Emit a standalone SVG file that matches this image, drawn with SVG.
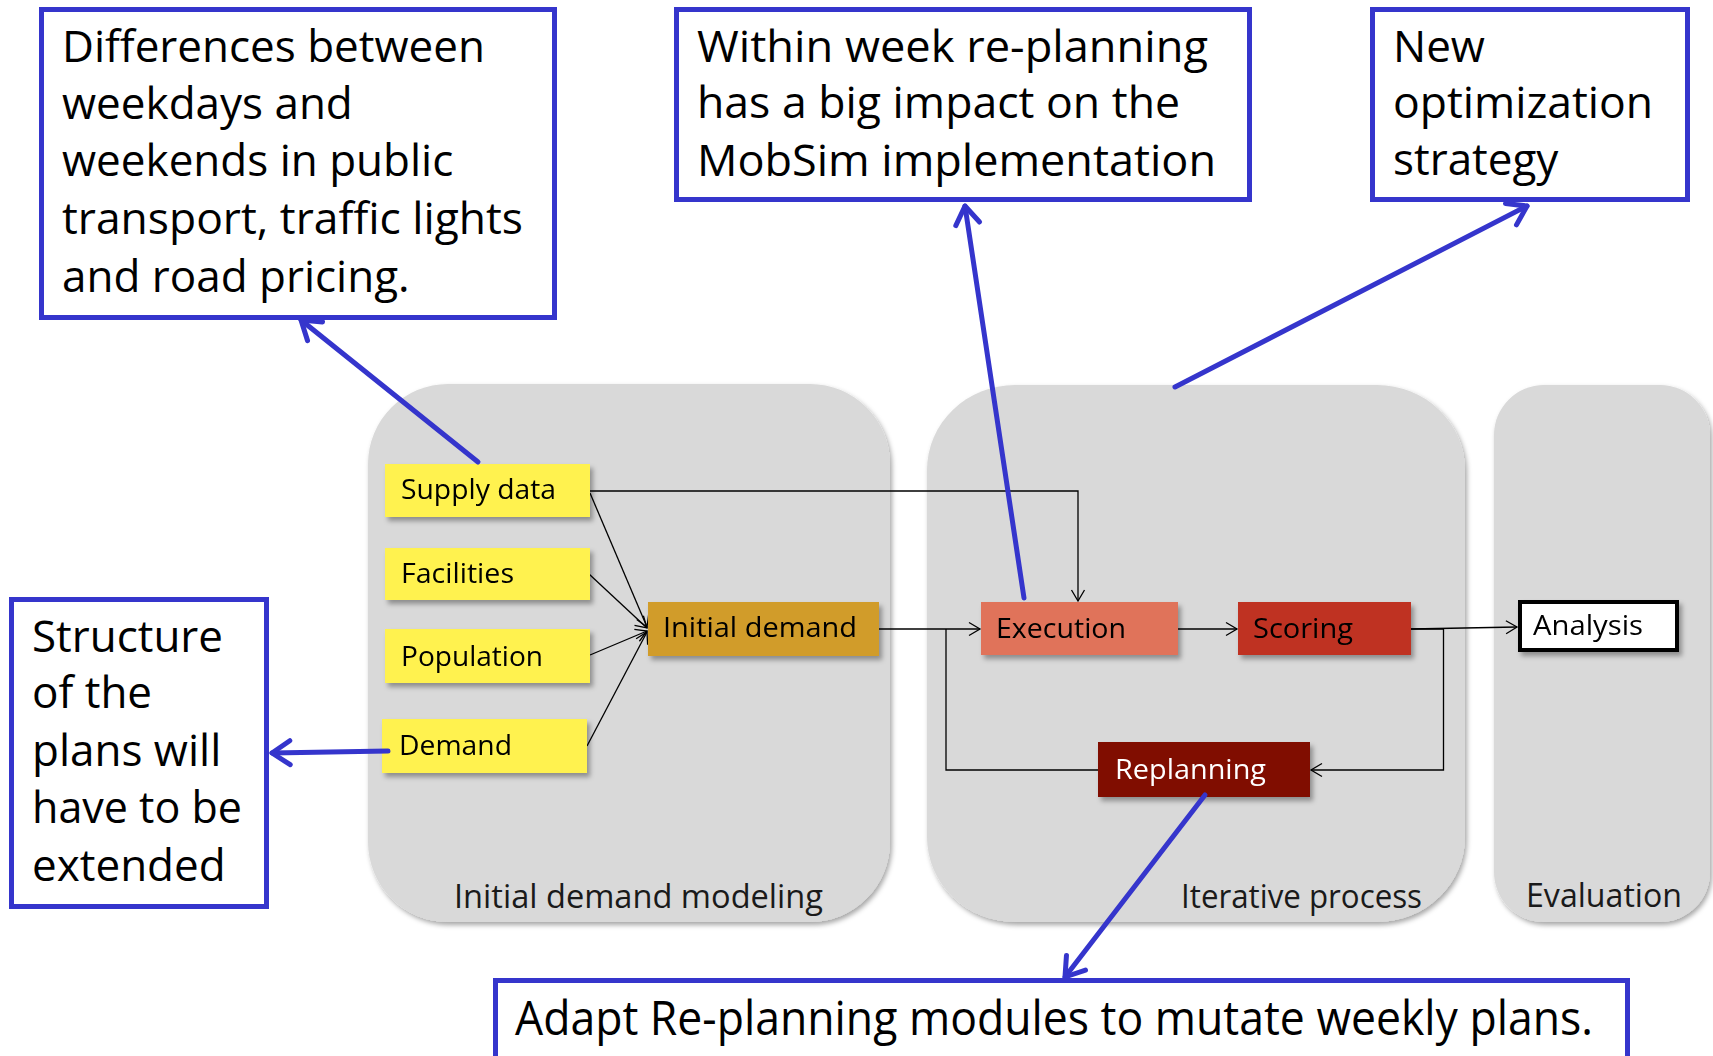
<svg xmlns="http://www.w3.org/2000/svg" width="1713" height="1056" viewBox="0 0 1713 1056">
<style>
text{font-family:"Open Sans","Liberation Sans",sans-serif;}
.call{fill:#fff;stroke:#3535cc;stroke-width:5;}
.ct{font-size:44px;fill:#000;}
.nt{font-size:27px;fill:#000;}
.wt{font-size:27px;fill:#fff;}
.pl{font-size:32px;fill:#1a1a1a;}
.panel{fill:#d9d9d9;filter:url(#psh);}
.node{filter:url(#nsh);}
.conn{fill:none;stroke:#000;stroke-width:1.3;}
.blue{fill:none;stroke:#3535cc;stroke-width:5;stroke-linecap:round;}
</style>
<defs>
<filter id="psh" x="-5%" y="-5%" width="110%" height="110%"><feDropShadow dx="2" dy="3" stdDeviation="2.5" flood-color="#000" flood-opacity="0.35"/></filter>
<filter id="nsh" x="-10%" y="-20%" width="120%" height="150%"><feDropShadow dx="3" dy="4" stdDeviation="2.5" flood-color="#000" flood-opacity="0.35"/></filter>
<marker id="ah" markerUnits="userSpaceOnUse" markerWidth="30" markerHeight="30" refX="0" refY="0" viewBox="-15 -15 30 30" orient="auto"><path d="M-11,-6.5 L0,0 L-11,6.5" fill="none" stroke="#000" stroke-width="1.3"/></marker>
<marker id="bh" markerUnits="userSpaceOnUse" markerWidth="50" markerHeight="50" refX="0" refY="0" viewBox="-25 -25 50 50" orient="auto"><path d="M-18,-12 L0,0 L-18,12" fill="none" stroke="#3535cc" stroke-width="5" stroke-linecap="round" stroke-linejoin="round"/></marker>
</defs>

<g id="panels">
<rect class="panel" x="368" y="384" width="522" height="538" rx="80" ry="80"/>
<rect class="panel" x="927" y="385" width="538" height="537" rx="88" ry="85"/>
<rect class="panel" x="1494" y="385" width="216" height="537" rx="50" ry="50"/>
<text class="pl" x="454" y="908" textLength="369" lengthAdjust="spacingAndGlyphs">Initial demand modeling</text>
<text class="pl" x="1181" y="908" textLength="241" lengthAdjust="spacingAndGlyphs">Iterative process</text>
<text class="pl" x="1526" y="907" textLength="156" lengthAdjust="spacingAndGlyphs">Evaluation</text>
</g>

<g id="connectors">
<line class="conn" x1="590" y1="493" x2="647" y2="627" marker-end="url(#ah)"/>
<line class="conn" x1="589" y1="574" x2="647" y2="628" marker-end="url(#ah)"/>
<line class="conn" x1="590" y1="655" x2="647" y2="631" marker-end="url(#ah)"/>
<line class="conn" x1="587" y1="746" x2="647" y2="632" marker-end="url(#ah)"/>
<polyline class="conn" points="590,491 1078,491 1078,601" marker-end="url(#ah)"/>
<line class="conn" x1="879" y1="629" x2="980" y2="629" marker-end="url(#ah)"/>
<polyline class="conn" points="1098,770 946,770 946,629"/>
<line class="conn" x1="1178" y1="629" x2="1237" y2="629" marker-end="url(#ah)"/>
<line class="conn" x1="1411" y1="629" x2="1517" y2="627" marker-end="url(#ah)"/>
<polyline class="conn" points="1411,629 1443.5,629 1443.5,770 1311,770" marker-end="url(#ah)"/>
</g>

<g id="supply-data" class="node"><rect x="385" y="464" width="205" height="53" fill="#fff24f"/><text class="nt" x="401" y="499" textLength="155" lengthAdjust="spacingAndGlyphs">Supply data</text></g>
<g id="facilities" class="node"><rect x="385" y="548" width="205" height="52" fill="#fff24f"/><text class="nt" x="401" y="583" textLength="113" lengthAdjust="spacingAndGlyphs">Facilities</text></g>
<g id="population" class="node"><rect x="385" y="629" width="205" height="54" fill="#fff24f"/><text class="nt" x="401" y="666" textLength="142" lengthAdjust="spacingAndGlyphs">Population</text></g>
<g id="demand" class="node"><rect x="382" y="719" width="205" height="54" fill="#fff24f"/><text class="nt" x="399" y="755" textLength="113" lengthAdjust="spacingAndGlyphs">Demand</text></g>
<g id="initial-demand" class="node"><rect x="648" y="602" width="231" height="54" fill="#d19c2a"/><text class="nt" x="663" y="637" textLength="194" lengthAdjust="spacingAndGlyphs">Initial demand</text></g>
<g id="execution" class="node"><rect x="981" y="602" width="197" height="53" fill="#e0735a"/><text class="nt" x="996" y="638" textLength="130" lengthAdjust="spacingAndGlyphs">Execution</text></g>
<g id="scoring" class="node"><rect x="1238" y="602" width="173" height="53" fill="#bf3124"/><text class="nt" x="1253" y="638" textLength="100" lengthAdjust="spacingAndGlyphs">Scoring</text></g>
<g id="analysis" class="node"><rect x="1520" y="602" width="157" height="48" fill="#fff" stroke="#000" stroke-width="4"/><text class="nt" x="1533" y="635" textLength="110" lengthAdjust="spacingAndGlyphs">Analysis</text></g>
<g id="replanning" class="node"><rect x="1098" y="742" width="212" height="55" fill="#800a00"/><text class="wt" x="1115" y="779" textLength="151" lengthAdjust="spacingAndGlyphs">Replanning</text></g>

<g id="annotation-arrows">
<line class="blue" x1="478" y1="462" x2="301" y2="320" marker-end="url(#bh)"/>
<line class="blue" x1="1024" y1="598" x2="965" y2="206" marker-end="url(#bh)"/>
<line class="blue" x1="1175" y1="387" x2="1527" y2="206" marker-end="url(#bh)"/>
<line class="blue" x1="388" y1="751" x2="272" y2="753" marker-end="url(#bh)"/>
<line class="blue" x1="1205" y1="795" x2="1065" y2="977" marker-end="url(#bh)"/>
</g>

<g id="note-weekdays">
<rect class="call" x="41.5" y="9.5" width="513" height="308"/>
<text class="ct" x="62" y="62" textLength="423" lengthAdjust="spacingAndGlyphs">Differences between</text>
<text class="ct" x="62" y="119">weekdays and</text>
<text class="ct" x="62" y="176">weekends in public</text>
<text class="ct" x="62" y="234" textLength="461" lengthAdjust="spacingAndGlyphs">transport, traffic lights</text>
<text class="ct" x="62" y="292">and road pricing.</text>
</g>
<g id="note-replanning">
<rect class="call" x="676.5" y="9.5" width="573" height="190"/>
<text class="ct" x="697" y="62" textLength="511" lengthAdjust="spacingAndGlyphs">Within week re-planning</text>
<text class="ct" x="697" y="118" textLength="483" lengthAdjust="spacingAndGlyphs">has a big impact on the</text>
<text class="ct" x="697" y="176" textLength="519" lengthAdjust="spacingAndGlyphs">MobSim implementation</text>
</g>
<g id="note-optimization">
<rect class="call" x="1372.5" y="9.5" width="315" height="190"/>
<text class="ct" x="1393" y="62">New</text>
<text class="ct" x="1393" y="118" textLength="260" lengthAdjust="spacingAndGlyphs">optimization</text>
<text class="ct" x="1393" y="175">strategy</text>
</g>
<g id="note-structure">
<rect class="call" x="11.5" y="599.5" width="255" height="307"/>
<text class="ct" x="32" y="652" textLength="191" lengthAdjust="spacingAndGlyphs">Structure</text>
<text class="ct" x="32" y="708">of the</text>
<text class="ct" x="32" y="766">plans will</text>
<text class="ct" x="32" y="823" textLength="210" lengthAdjust="spacingAndGlyphs">have to be</text>
<text class="ct" x="32" y="881">extended</text>
</g>
<g id="note-adapt">
<rect class="call" x="495.5" y="980.5" width="1132" height="110"/>
<text class="ct" x="515" y="1035" style="font-size:48px" textLength="1078" lengthAdjust="spacingAndGlyphs">Adapt Re-planning modules to mutate weekly plans.</text>
</g>
</svg>
